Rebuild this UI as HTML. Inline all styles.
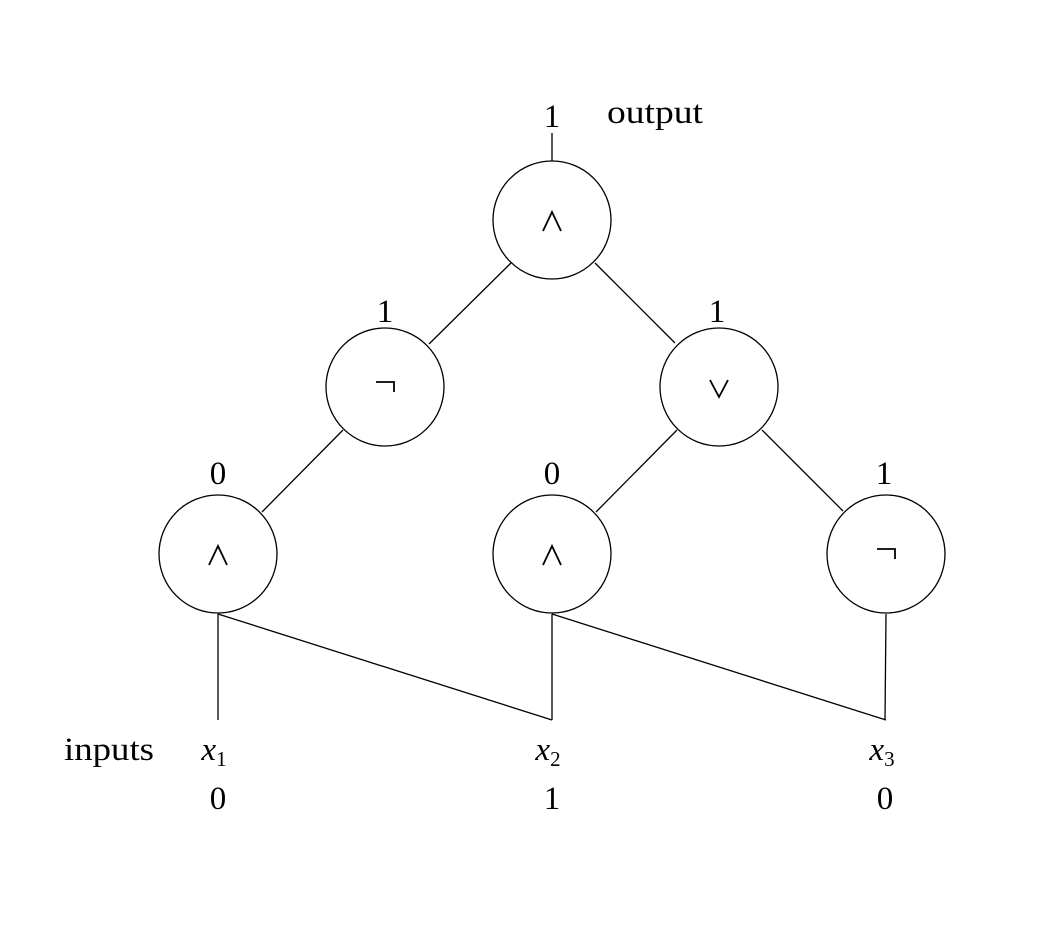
<!DOCTYPE html>
<html><head><style>body{margin:0;background:#fff}</style></head><body>
<svg width="1038" height="921" xmlns="http://www.w3.org/2000/svg" font-family="Liberation Serif, DejaVu Serif, serif" fill="none" stroke="#000" stroke-width="1.3">
<g>
<circle cx="552" cy="220" r="59"/>
<circle cx="385" cy="387" r="59"/>
<circle cx="719" cy="387" r="59"/>
<circle cx="218" cy="554" r="59"/>
<circle cx="552" cy="554" r="59"/>
<circle cx="886" cy="554" r="59"/>
<line x1="552" y1="133" x2="552" y2="161"/>
<line x1="511" y1="263" x2="429" y2="344"/>
<line x1="595" y1="263" x2="675" y2="343"/>
<line x1="343" y1="430" x2="262" y2="512"/>
<line x1="677" y1="430" x2="596" y2="512"/>
<line x1="762" y1="430" x2="843" y2="511"/>
<line x1="218" y1="614" x2="218" y2="720"/>
<line x1="218" y1="614" x2="552" y2="720"/>
<line x1="552" y1="614" x2="552" y2="720"/>
<line x1="552" y1="614" x2="886" y2="720"/>
<line x1="886" y1="614" x2="885" y2="720"/>
</g>
<g fill="#000" stroke="none" font-size="33" text-anchor="middle">
<text x="552" y="127">1</text>
<text x="607" y="123" font-size="33" text-anchor="start" textLength="96" lengthAdjust="spacingAndGlyphs">output</text>
<text x="385" y="322">1</text>
<text x="717" y="322">1</text>
<text x="218" y="484">0</text>
<text x="552" y="484">0</text>
<text x="884" y="484">1</text>
<text x="64" y="760" font-size="33" text-anchor="start" textLength="90" lengthAdjust="spacingAndGlyphs">inputs</text>
<text x="214" y="760" font-style="italic">x<tspan font-size="21" dy="6" font-style="normal">1</tspan></text>
<text x="548" y="760" font-style="italic">x<tspan font-size="21" dy="6" font-style="normal">2</tspan></text>
<text x="882" y="760" font-style="italic">x<tspan font-size="21" dy="6" font-style="normal">3</tspan></text>
<text x="218" y="809">0</text>
<text x="552" y="809">1</text>
<text x="885" y="809">0</text>
</g>
<g stroke-width="1.8">
<polyline points="543,231 552,212 561,231"/>
<polyline points="209,565 218,546 227,565"/>
<polyline points="543,565 552,546 561,565"/>
<polyline points="710,380 719,397 728,380"/>
<polyline points="376,382 394,382 394,392"/>
<polyline points="877,549 895,549 895,559"/>
</g>
</svg>
</body></html>
